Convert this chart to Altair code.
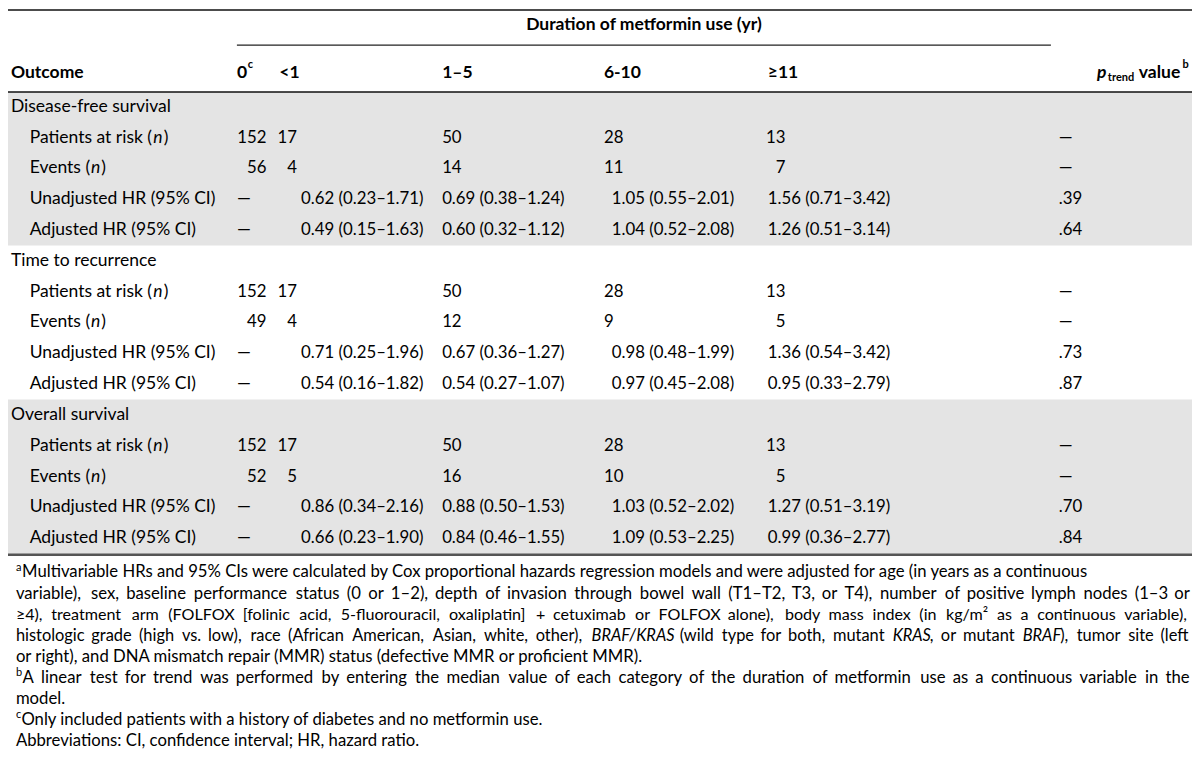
import altair as alt
import pandas as pd

# ---------------- data ----------------
spanner = "Duration of metformin use (yr)"
outcome_header = "Outcome"
col_headers = ["0", "<1", "1–5", "6-10", "≥11"]
sections = ["Disease-free survival", "Time to recurrence", "Overall survival"]
row_labels = ["Patients at risk (n)", "Events (n)", "Unadjusted HR (95% CI)", "Adjusted HR (95% CI)"]

dfs_at_risk = ["152", "17", "50", "28", "13", "—"]
dfs_events = ["56", "4", "14", "11", "7", "—"]
dfs_unadj = ["—", "0.62 (0.23–1.71)", "0.69 (0.38–1.24)", "1.05 (0.55–2.01)", "1.56 (0.71–3.42)", ".39"]
dfs_adj = ["—", "0.49 (0.15–1.63)", "0.60 (0.32–1.12)", "1.04 (0.52–2.08)", "1.26 (0.51–3.14)", ".64"]

ttr_at_risk = ["152", "17", "50", "28", "13", "—"]
ttr_events = ["49", "4", "12", "9", "5", "—"]
ttr_unadj = ["—", "0.71 (0.25–1.96)", "0.67 (0.36–1.27)", "0.98 (0.48–1.99)", "1.36 (0.54–3.42)", ".73"]
ttr_adj = ["—", "0.54 (0.16–1.82)", "0.54 (0.27–1.07)", "0.97 (0.45–2.08)", "0.95 (0.33–2.79)", ".87"]

os_at_risk = ["152", "17", "50", "28", "13", "—"]
os_events = ["52", "5", "16", "10", "5", "—"]
os_unadj = ["—", "0.86 (0.34–2.16)", "0.88 (0.50–1.53)", "1.03 (0.52–2.02)", "1.27 (0.51–3.19)", ".70"]
os_adj = ["—", "0.66 (0.23–1.90)", "0.84 (0.46–1.55)", "1.09 (0.53–2.25)", "0.99 (0.36–2.77)", ".84"]

section_rows = [
    [dfs_at_risk, dfs_events, dfs_unadj, dfs_adj],
    [ttr_at_risk, ttr_events, ttr_unadj, ttr_adj],
    [os_at_risk, os_events, os_unadj, os_adj],
]

# footnote lines: (superscript mark, segments as (text, italic), justified?)
footnotes = [
    ("a", [("Multivariable HRs and 95% CIs were calculated by Cox proportional hazards regression models and were adjusted for age (in years as a continuous", False)], False),
    ("", [("variable), sex, baseline performance status (0 or 1–2), depth of invasion through bowel wall (T1–T2, T3, or T4), number of positive lymph nodes (1–3 or", False)], True),
    ("", [("≥4), treatment arm (FOLFOX [folinic acid, 5-fluorouracil, oxaliplatin] + cetuximab or FOLFOX alone), body mass index (in kg/m² as a continuous variable),", False)], True),
    ("", [("histologic grade (high vs. low), race (African American, Asian, white, other), ", False), ("BRAF/KRAS", True),
          (" (wild type for both, mutant ", False), ("KRAS", True), (", or mutant ", False), ("BRAF", True),
          ("), tumor site (left", False)], True),
    ("", [("or right), and DNA mismatch repair (MMR) status (defective MMR or proficient MMR).", False)], False),
    ("b", [("A linear test for trend was performed by entering the median value of each category of the duration of metformin use as a continuous variable in the", False)], True),
    ("", [("model.", False)], False),
    ("c", [("Only included patients with a history of diabetes and no metformin use.", False)], False),
    ("", [("Abbreviations: CI, confidence interval; HR, hazard ratio.", False)], False),
]

# ---------------- layout ----------------
FONT = "Lato"
BODY = 17.5
NUM = 16.8
HEAD = 17.5
SUP = 11
FOOT_SIZES = [16.7, 16.7, 16.1, 16.4, 16.7, 16.7, 16.7, 16.7, 16.7]
K = 1.078           # rendered Lato width relative to the width table below
SX = 1184 / 1200.0  # plot px per reference px

CW = {' ': 463, '!': 544, '(': 621, ')': 621, '+': 1018, ',': 511, '-': 627, '.': 517, '/': 791, ':': 548, ';': 548,
      '[': 628, ']': 628, '%': 1463, '<': 1018, '≥': 1018, '–': 1024, '—': 1853, '²': 700}
for ch in '0123456789':
    CW[ch] = 1038
CW.update(dict(zip('ABCDEFGHIJKLMNOPQRSTUVWXYZ',
                   [1185, 1114, 1092, 1260, 1000, 941, 1292, 1276, 516, 653, 1064, 861, 1751, 1322, 1356, 1058, 1378,
                    1112, 941, 998, 1314, 1162, 1822, 1063, 998, 959])))
CW.update(dict(zip('abcdefghijklmnopqrstuvwxyz',
                   [981, 1076, 866, 1076, 1019, 625, 964, 1076, 470, 490, 931, 470, 1636, 1076, 1080, 1076, 1076,
                    714, 801, 686, 1076, 925, 1464, 887, 927, 809])))


def tw(s, size, k=K, caps=1.0):
    """estimated rendered width in reference px"""
    tot = sum(CW.get(c, 1000) * (caps if c.isupper() else 1.0) for c in s)
    return tot / 2048.0 * size * k / SX


ROW_Y0 = 101
ROW_H = 31.5


def row_y(i):
    return ROW_Y0 + ROW_H * i


SEC_X = 3
LAB_X = 22
HEAD_X = [232, 275, 440, 604, 770]
DASH_X = [232, 275, 440, 604, 770, 1065]
COUNT_POS = [(262, "right"), (293, "right"), (440, "left"), (604, "left"), (788, "right"), (1065, "left")]
HR_X = [232, 297, 440, 612, 770, 1065]

left_n, right_n, left_i, left_b, center_b, left_bi = [], [], [], [], [], []


def put(lst, x, y, t, s):
    lst.append({"x": x, "y": y, "t": t, "s": s})


# header
put(center_b, (232 + 1057) / 2, 17, spanner, HEAD)
put(left_b, SEC_X, 66, outcome_header, HEAD)
for c, h in enumerate(col_headers):
    put(left_b, HEAD_X[c], 66, h, HEAD)
put(left_b, HEAD_X[0] + tw("0", HEAD, 1.12) + 1, 58, "c", SUP)
p_w = tw("p", HEAD, 1.12)
tr_w = tw("trend", 11, 1.12)
v_w = tw("value", HEAD, 1.12)
b_w = tw("b", SUP, 1.12)
px0 = 1197 - (p_w + tr_w + 4 + v_w + 1 + b_w)
put(left_bi, px0, 66, "p", HEAD)
put(left_b, px0 + p_w + 0.5, 72, "trend", 11)
put(left_b, px0 + p_w + tr_w + 4, 66, "value", HEAD)
put(left_b, px0 + p_w + tr_w + 4 + v_w + 1, 58, "b", SUP)

# body
ri = 0
for s, sec in enumerate(sections):
    put(left_n, SEC_X, row_y(ri), sec, BODY)
    ri += 1
    for r, lab in enumerate(row_labels):
        y = row_y(ri)
        if "(n)" in lab:
            pre = lab.split("(n)")[0] + "("
            put(left_n, LAB_X, y, pre, BODY)
            wx = LAB_X + tw(pre, BODY) + 0.5
            put(left_i, wx, y, "n", BODY)
            put(left_n, wx + tw("n", BODY) + 0.5, y, ")", BODY)
        else:
            put(left_n, LAB_X, y, lab, BODY)
        vals = section_rows[s][r]
        for c, v in enumerate(vals):
            if v == "—":
                put(left_n, DASH_X[c], y, v, BODY)
            elif r < 2:
                x, al = COUNT_POS[c]
                put(right_n if al == "right" else left_n, x, y, v, NUM)
            else:
                put(left_n, HR_X[c], y, v, NUM)
        ri += 1

# footnotes
FOOT_Y0 = 577
FOOT_H = 21.6
RIGHT_EDGE = 1198


def fw(t, fs, ital):
    return tw(t, fs, caps=1.0 if ital else 1.1)


for i, (sup, segs, justify) in enumerate(footnotes):
    y = FOOT_Y0 + FOOT_H * i
    fs = FOOT_SIZES[i]
    x = 8
    if sup:
        put(left_n, x, y - 5, sup, SUP)
        x += tw(sup, SUP) + 0.5
    if not justify:
        for text, ital in segs:
            put(left_i if ital else left_n, x, y, text, fs)
            x += fw(text, fs, ital)
        continue
    # split into words made of styled parts, then spread them to the right edge
    words = [[]]
    for text, ital in segs:
        pieces = text.split(" ")
        for j, pc in enumerate(pieces):
            if j > 0:
                words.append([])
            if pc:
                words[-1].append((pc, ital))
    words = [w for w in words if w]
    widths = [sum(fw(t, fs, it) for t, it in w) for w in words]
    gap = (RIGHT_EDGE - x - sum(widths)) / (len(words) - 1)
    for w, wd in zip(words, widths):
        xx = x
        for t, ital in w:
            put(left_i if ital else left_n, xx, y, t, fs)
            xx += fw(t, fs, ital)
        x += wd + gap

# rules and bands
rules = pd.DataFrame([
    {"x": 0, "x2": 1200, "y": 2, "w": 1.5, "c": "#111111"},
    {"x": 232, "x2": 1057, "y": 38, "w": 1.3, "c": "#222222"},
    {"x": 0, "x2": 1200, "y": 86, "w": 1.5, "c": "#111111"},
    {"x": 0, "x2": 1200, "y": 559, "w": 2.5, "c": "#555555"},
])
bands = pd.DataFrame([
    {"x": 0, "x2": 1200, "y": 86, "y2": (row_y(4) + row_y(5)) / 2},
    {"x": 0, "x2": 1200, "y": (row_y(9) + row_y(10)) / 2, "y2": 559},
])

XS = alt.Scale(domain=[0, 1200], nice=False, zero=False)
YS = alt.Scale(domain=[0, 779], nice=False, zero=False, reverse=True)
X = alt.X("x:Q", scale=XS, axis=None)
Y = alt.Y("y:Q", scale=YS, axis=None)

band_layer = alt.Chart(bands).mark_rect(color="#e4e4e4").encode(x=X, x2="x2:Q", y=Y, y2="y2:Q")
rule_layer = alt.Chart(rules).mark_rule().encode(
    x=X, x2="x2:Q", y=Y,
    strokeWidth=alt.StrokeWidth("w:Q", scale=None, legend=None),
    color=alt.Color("c:N", scale=None, legend=None),
)


def tlayer(records, align="left", weight="normal", style="normal"):
    df = pd.DataFrame(records)
    return alt.Chart(df).mark_text(
        align=align, baseline="middle", font=FONT, fontWeight=weight, fontStyle=style, color="#000000"
    ).encode(x=X, y=Y, text=alt.Text("t:N"), size=alt.Size("s:Q", scale=None, legend=None))


layers = [band_layer, rule_layer,
          tlayer(left_n), tlayer(right_n, align="right"), tlayer(left_i, style="italic"),
          tlayer(left_b, weight="bold"), tlayer(center_b, align="center", weight="bold"),
          tlayer(left_bi, weight="bold", style="italic")]

chart = alt.layer(*layers).properties(
    width=1184, height=762, padding=0, autosize=alt.AutoSizeParams(type="none")
).configure_view(stroke=None)

chart.save("out.html", embed_options={"renderer": "svg", "actions": False})
